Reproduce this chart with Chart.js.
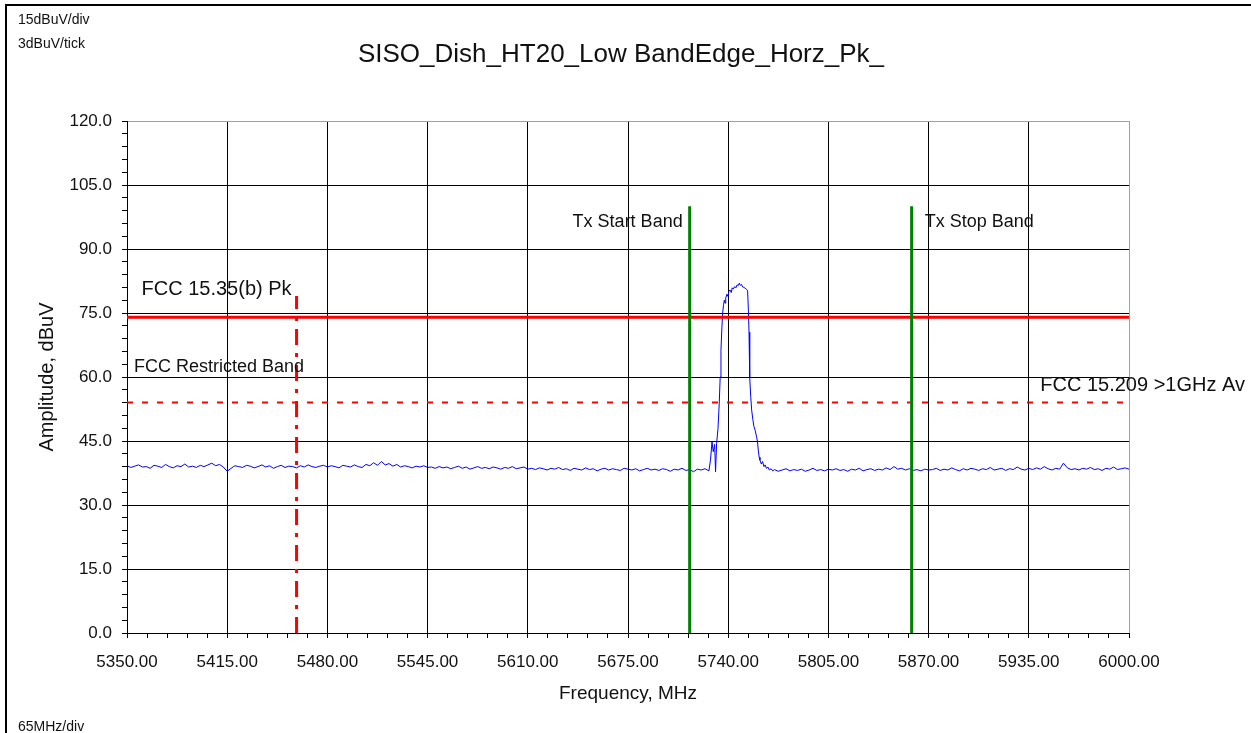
<!DOCTYPE html>
<html>
<head>
<meta charset="utf-8">
<title>SISO_Dish_HT20_Low BandEdge_Horz_Pk_</title>
<script src="https://cdn.jsdelivr.net/npm/chart.js@4.4.1/dist/chart.umd.min.js"></script>
<style>
  html, body { margin:0; padding:0; background:#fff; }
  canvas { display:block; }
</style>
</head>
<body>
<canvas id="chBandEdge" width="1251" height="733"></canvas>
<script>
// axis ranges, divisions and minor ticks
var fMin = 5350, fMax = 6000, fDiv = 65, fTick = 13;
var aMin = 0, aMax = 120, aDiv = 15, aTick = 3;

// noise floor below the carrier, one reading every 2.5 MHz from 5350
var floorLoStart = 5350, floorLoStep = 2.5;
var floorLo = [
  39.2, 38.8, 39.1, 39.4, 38.9, 39.0, 38.6, 39.3, 39.1, 38.8,
  39.5, 39.0, 38.7, 39.2, 39.0, 39.6, 38.9, 39.1, 38.8, 39.3,
  39.0, 39.4, 39.8, 39.2, 39.5, 38.9, 37.9,
  38.6, 39.2, 39.0, 38.8, 39.3, 39.1, 38.7, 39.0, 39.4, 38.9,
  39.2, 38.6, 39.0, 39.3, 38.8, 39.1, 39.0, 38.7, 39.2, 38.9,
  39.4, 39.0, 38.8, 39.1, 39.3, 38.9,
  39.2, 39.0, 38.7, 39.3, 39.1, 38.9, 39.4, 39.0, 38.8, 39.5,
  39.2, 39.9, 39.3, 40.2, 39.4, 39.7, 39.1, 39.5, 38.9, 39.2,
  39.0, 38.7, 39.1, 38.9, 39.2, 38.8,
  38.9, 38.6, 39.0, 38.7, 38.9, 38.5, 38.8, 39.1, 38.6, 38.9,
  38.4, 38.7, 39.0, 38.6, 38.8, 38.5, 38.9, 38.7, 38.4, 38.8,
  38.6, 39.0, 38.5, 38.7, 38.9, 38.4,
  38.6, 38.3, 38.7, 38.5, 38.2, 38.6, 38.4, 38.8, 38.3, 38.5,
  38.1, 38.6, 38.4, 38.2, 38.7, 38.3, 38.5, 38.0, 38.4, 38.6,
  38.2, 38.5, 38.3, 38.1, 38.6, 38.4, 38.2, 38.5, 38.0, 38.3,
  38.6, 38.2, 38.4, 38.1, 38.5, 38.3, 37.9, 38.4, 38.2, 38.6,
  38.1, 38.3, 37.8, 38.4, 38.2, 38.5, 38.0
];

// HT20 carrier around 5745 MHz
var peakMHz = [
  5728.5, 5729.5, 5730.3, 5731.2, 5731.8, 5732.5, 5733.4, 5734.2, 5734.8, 5735.3,
  5735.9, 5736.4, 5737.0, 5737.5, 5738.0, 5738.4, 5739.2, 5739.8, 5740.5, 5741.2,
  5742.0, 5742.6, 5743.3, 5744.2, 5745.0, 5745.8, 5746.5, 5747.2, 5747.9, 5748.6,
  5749.4, 5750.2, 5751.0, 5751.8, 5752.6, 5753.1, 5753.5, 5753.8, 5754.1, 5754.6,
  5755.2, 5756.0, 5756.7, 5757.5, 5758.5, 5759.0, 5759.5, 5760.1, 5760.6, 5761.5,
  5762.3, 5763.2, 5763.9, 5764.8, 5765.8, 5766.7, 5767.8, 5768.9
];
var peakDbuv = [
  40.5, 44.8, 42.5, 44.2, 37.8, 44.5, 48.0, 53.9, 60.0, 66.3,
  71.5, 75.0, 77.0, 78.0, 77.3, 78.5, 79.4, 78.9, 80.1, 80.4,
  79.8, 80.9, 80.6, 81.2, 80.9, 81.6, 81.4, 82.0, 81.5, 81.7,
  81.1, 81.0, 80.8, 80.6, 80.2, 75.5, 70.5, 65.0, 60.0, 55.5,
  52.3, 50.0, 48.4, 47.5, 45.8, 44.8, 42.9, 41.2, 40.5, 39.6,
  40.2, 39.0, 39.4, 38.6, 38.9, 38.2, 38.5, 38.0
];

// noise floor above the carrier, 5770 to 6000
var floorHiStart = 5770, floorHiStep = 2.5;
var floorHi = [
  38.3, 37.9, 38.2, 38.5, 38.0, 38.3, 38.1, 38.4, 37.9, 38.2,
  38.6, 38.1, 38.3, 38.0, 38.4,
  38.2, 38.5, 38.1, 38.3, 37.9, 38.4, 38.2, 38.6, 38.0, 38.3,
  38.5, 38.1, 38.4, 38.2, 38.7, 38.3, 39.0, 38.4, 38.6, 38.2,
  38.5, 38.1, 38.3, 38.0, 38.4, 38.2,
  38.3, 38.6, 38.1, 38.4, 38.2, 38.7, 38.3, 38.0, 38.5, 38.2,
  38.6, 38.4, 38.1, 38.5, 38.3, 38.8, 38.2, 38.4, 38.6, 38.1,
  38.5, 38.3, 38.9, 38.4, 38.2, 38.6,
  38.3, 38.7, 38.4, 39.0, 38.5, 38.2, 38.6, 38.4, 39.8, 38.7,
  38.3, 38.5, 38.2, 38.6, 38.4, 38.8, 38.3, 38.5, 38.1, 38.6,
  38.4, 38.9, 38.3, 38.5, 38.7, 38.4
];

// limits and band markers
var limitPk = 74, limitAv = 54;
var restrictedEdge = 5460, restrictedTop = 79;
var txStart = 5715, txStop = 5859, txTop = 100;

var font = "'Liberation Sans', Arial, sans-serif";
Chart.defaults.font.family = font;
Chart.defaults.color = '#111';

var trace = [];
floorLo.forEach(function(v, i){ trace.push({x: floorLoStart + i * floorLoStep, y: v}); });
peakMHz.forEach(function(f, i){ trace.push({x: f, y: peakDbuv[i]}); });
floorHi.forEach(function(v, i){ trace.push({x: floorHiStart + i * floorHiStep, y: v}); });

function hline(a){ return [{x: fMin, y: a}, {x: fMax, y: a}]; }
function vline(f, top){ return [{x: f, y: aMin}, {x: f, y: top}]; }

function xGrid(c){
  var v = c.tick.value;
  if (v === fMax) return '#a0a0a0';
  return (v - fMin) % fDiv === 0 ? '#000' : 'rgba(0,0,0,0)';
}
function yGrid(c){
  var v = c.tick.value;
  if (v === aMax) return '#a0a0a0';
  return v % aDiv === 0 ? '#000' : 'rgba(0,0,0,0)';
}

// frame, title and marker captions
var notes = {
  id: 'notes',
  beforeDraw: function(chart){
    var ctx = chart.ctx;
    ctx.save();
    ctx.fillStyle = '#fff';
    ctx.fillRect(0, 0, chart.width, chart.height);
    ctx.fillStyle = '#000';
    ctx.fillRect(5, 4, chart.width - 5, 2);
    ctx.fillRect(5, 4, 2, chart.height - 4);
    ctx.restore();
  },
  afterDraw: function(chart){
    var ctx = chart.ctx, x = chart.scales.x, y = chart.scales.y;
    ctx.save();
    ctx.fillStyle = '#111';
    ctx.textBaseline = 'middle';

    ctx.textAlign = 'left';
    ctx.font = '14px ' + font;
    ctx.fillText(aDiv + 'dBuV/div', 18, 20);
    ctx.fillText(aTick + 'dBuV/tick', 18, 44);
    ctx.fillText(fDiv + 'MHz/div', 18, 727);

    ctx.textAlign = 'center';
    ctx.font = '26px ' + font;
    ctx.fillText('SISO_Dish_HT20_Low BandEdge_Horz_Pk_', 621, 55);

    ctx.font = '18px ' + font;
    ctx.textAlign = 'right';
    ctx.fillText('Tx Start Band', x.getPixelForValue(txStart) - 7, 222);
    ctx.textAlign = 'left';
    ctx.fillText('Tx Stop Band', x.getPixelForValue(txStop) + 13, 222);
    ctx.fillText('FCC Restricted Band', x.left + 7, 367);

    ctx.font = '20px ' + font;
    ctx.textAlign = 'right';
    ctx.fillText('FCC 15.35(b) Pk', x.getPixelForValue(restrictedEdge) - 5, 289);
    ctx.fillText('FCC 15.209 >1GHz Av', 1245, y.getPixelForValue(limitAv) - 17);
    ctx.restore();
  }
};

new Chart(document.getElementById('chBandEdge'), {
  type: 'line',
  data: {
    datasets: [
      {data: trace, borderColor: '#0000ff', borderWidth: 1, order: 3},
      {data: hline(limitPk), borderColor: '#ff0000', borderWidth: 3, order: 2},
      {data: hline(limitAv), borderColor: '#ff0000', borderWidth: 2, borderDash: [6, 9], order: 2},
      {data: vline(restrictedEdge, restrictedTop), borderColor: '#ff0000', borderWidth: 3, borderDash: [16, 8, 4, 8], order: 2},
      {data: vline(txStart, txTop), borderColor: '#008000', borderWidth: 3, order: 1},
      {data: vline(txStop, txTop), borderColor: '#008000', borderWidth: 3, order: 1}
    ]
  },
  options: {
    responsive: false,
    animation: false,
    events: [],
    layout: {padding: {left: 18, top: 121, right: 122, bottom: 20}},
    elements: {point: {radius: 0}, line: {tension: 0}},
    plugins: {legend: {display: false}, tooltip: {enabled: false}},
    scales: {
      x: {
        type: 'linear', min: fMin, max: fMax,
        afterBuildTicks: function(s){
          var t = [];
          for (var v = fMin; v <= fMax; v += fTick) t.push({value: v});
          s.ticks = t;
        },
        afterFit: function(s){ s.height = 80; },
        ticks: {
          autoSkip: false, maxRotation: 0, padding: 14, color: '#111',
          font: {size: 17},
          callback: function(v){ return (v - fMin) % fDiv === 0 ? v.toFixed(2) : ''; }
        },
        grid: {color: xGrid, tickColor: '#000', tickLength: 5, lineWidth: 1},
        border: {color: '#000', width: 1},
        title: {display: true, text: 'Frequency, MHz', color: '#111', font: {size: 19}, padding: {top: 0, bottom: 8}}
      },
      y: {
        min: aMin, max: aMax,
        afterBuildTicks: function(s){
          var t = [];
          for (var v = aMin; v <= aMax; v += aTick) t.push({value: v});
          s.ticks = t;
        },
        afterFit: function(s){ s.width = 109; },
        ticks: {
          autoSkip: false, padding: 10, color: '#111',
          font: {size: 17},
          callback: function(v){ return v % aDiv === 0 ? v.toFixed(1) : ''; }
        },
        grid: {color: yGrid, tickColor: '#000', tickLength: 5, lineWidth: 1},
        border: {color: '#000', width: 1},
        title: {display: true, text: 'Amplitude, dBuV', color: '#111', font: {size: 20}, padding: {top: 17, bottom: 0}}
      }
    }
  },
  plugins: [notes]
});
</script>
</body>
</html>
